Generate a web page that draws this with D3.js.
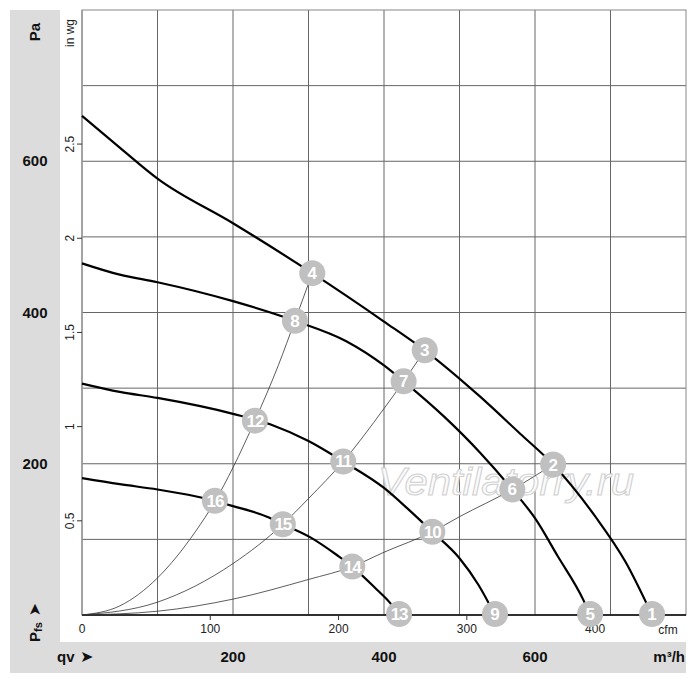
<!DOCTYPE html>
<html><head><meta charset="utf-8">
<script src="https://cdn.jsdelivr.net/npm/d3@7/dist/d3.min.js"></script>
<style>body{margin:0;background:#fff}svg{display:block}</style>
</head><body>
<svg id="c" width="700" height="685"></svg>
<script>
// ---- data (q in m³/h, p in Pa) ----
const curveA = [[0,660],[50,618],[100,577],[200,518],[305,452],[400,388],[454,350],[527,289],[580,240],[624,199],[680,130],[720,70],[755,0]];
const curveB = [[0,465],[50,450],[100,440],[200,415],[282,389],[350,362],[400,330],[426,309],[480,262],[527,215],[570,166],[600,128],[630,78],[664,20],[673,0]];
const curveC = [[0,306],[50,295],[100,287],[200,266],[250,252],[300,230],[346,203],[400,168],[432,140],[464,110],[500,75],[525,40],[547,0]];
const curveD = [[0,181],[50,173],[100,166],[150,157],[200,144],[245,130],[266,120],[302,103],[338,79],[358,64],[390,34],[408,16],[420,0]];
const system1 = [[0,0],[50,12],[100,49],[150,110],[176,150],[200,195],[229,257],[260,330],[282,389],[305,452]];
const system2 = [[0,0],[100,17],[200,68],[266,120],[300,154],[346,203],[400,273],[426,309],[454,350]];
const system3 = [[0,0],[100,5],[200,21],[300,47],[358,64],[400,83],[464,110],[500,130],[570,166],[624,199]];
const pointLabels = ["1","2","3","4","5","6","7","8","9","10","11","12","13","14","15","16"];
const pointQ = [755,624,454,305,673,570,426,282,547,464,346,229,420,358,266,176];
const pointP = [0,199,350,452,0,166,309,389,0,110,203,257,0,64,120,151];
const paTicks = [200,400,600];
const m3hTicks = [200,400,600];
const cfmTicks = [0,100,200,300,400];
const inwgTicks = [0.5,1,1.5,2,2.5];
const gridQ = [100,200,300,400,500,600,700];
const gridP = [100,200,300,400,500,600,700];

// ---- scales ----
const svg = d3.select("#c");
const x = d3.scaleLinear().domain([0,800]).range([82,686]);
const y = d3.scaleLinear().domain([0,800]).range([615,10]);
const CFM = 1.699, INWG = 249.09;
const F = "'Liberation Sans', Arial, sans-serif";

// bands
svg.append("rect").attr("x",10).attr("y",10).attr("width",50).attr("height",663).attr("fill","#dcdcdc");
svg.append("rect").attr("x",10).attr("y",642).attr("width",676).attr("height",31).attr("fill","#dcdcdc");

// grid
const g = svg.append("g");
g.selectAll(".vg").data(gridQ).join("line").attr("x1",d=>x(d)).attr("x2",d=>x(d)).attr("y1",y(800)).attr("y2",y(0)).attr("stroke","#666").attr("stroke-width",1);
g.selectAll(".hg").data(gridP).join("line").attr("y1",d=>y(d)).attr("y2",d=>y(d)).attr("x1",x(0)).attr("x2",x(800)).attr("stroke","#666").attr("stroke-width",1);
g.append("rect").attr("x",x(0)).attr("y",y(800)).attr("width",x(800)-x(0)).attr("height",y(0)-y(800)).attr("fill","none").attr("stroke","#888").attr("stroke-width",1);

// watermark
svg.append("text").attr("x",378).attr("y",495).attr("font-family",F).attr("font-style","italic")
  .attr("font-size",38).attr("textLength",256).attr("lengthAdjust","spacingAndGlyphs")
  .attr("fill","#fbfbfb").attr("stroke","#d0d0d0").attr("stroke-width",1).text("Ventilatorry.ru");

// axis lines and ticks
svg.append("line").attr("x1",x(0)).attr("x2",x(800)).attr("y1",y(0)).attr("y2",y(0)).attr("stroke","#000").attr("stroke-width",1.5);
svg.append("line").attr("x1",x(0)).attr("x2",x(0)).attr("y1",y(0)).attr("y2",y(800)).attr("stroke","#999").attr("stroke-width",1.5);
svg.selectAll(".ct").data(cfmTicks.slice(1)).join("line").attr("x1",d=>x(d*CFM)).attr("x2",d=>x(d*CFM)).attr("y1",y(0)).attr("y2",y(0)+5).attr("stroke","#333");
svg.selectAll(".cl").data(cfmTicks).join("text").attr("x",d=>x(d*CFM)).attr("y",633).attr("text-anchor","middle")
  .attr("font-family",F).attr("font-size",12).attr("fill","#222").text(d=>d);
svg.append("text").attr("x",668).attr("y",634).attr("text-anchor","middle").attr("font-family",F).attr("font-size",12).attr("fill","#222").text("cfm");

// in wg ticks
svg.selectAll(".it").data(inwgTicks).join("line").attr("x1",x(0)-5).attr("x2",x(0)).attr("y1",d=>y(d*INWG)).attr("y2",d=>y(d*INWG)).attr("stroke","#333");
svg.selectAll(".il").data(inwgTicks).join("text")
  .attr("transform",d=>`translate(74,${y(d*INWG)}) rotate(-90)`).attr("text-anchor","middle")
  .attr("font-family",F).attr("font-size",12).attr("fill","#222").text(d=>d);
svg.append("text").attr("transform","translate(74,33) rotate(-90)").attr("text-anchor","middle")
  .attr("font-family",F).attr("font-size",12).attr("fill","#222").text("in wg");

// band labels
svg.selectAll(".pl").data(paTicks).join("text").attr("x",35).attr("y",d=>y(d)+5).attr("text-anchor","middle")
  .attr("font-family",F).attr("font-size",15).attr("font-weight","bold").attr("fill","#111").text(d=>d);
svg.selectAll(".ml").data(m3hTicks).join("text").attr("x",d=>x(d)).attr("y",662).attr("text-anchor","middle")
  .attr("font-family",F).attr("font-size",15).attr("font-weight","bold").attr("fill","#111").text(d=>d);
svg.append("text").attr("x",685).attr("y",662).attr("text-anchor","end").attr("font-family",F).attr("font-size",15).attr("font-weight","bold").attr("fill","#111").text("m³/h");
svg.append("text").attr("transform","translate(40,32) rotate(-90)").attr("text-anchor","middle")
  .attr("font-family",F).attr("font-size",15).attr("font-weight","bold").attr("fill","#111").text("Pa");
svg.append("text").attr("x",57).attr("y",662).attr("font-family",F).attr("font-size",15).attr("font-weight","bold").attr("fill","#111").text("qv");
svg.append("text").attr("x",80).attr("y",662).attr("font-family","'DejaVu Sans', sans-serif").attr("font-size",16).attr("fill","#111").text("➤");
const pfs = svg.append("text").attr("transform","translate(40,642) rotate(-90)")
  .attr("font-family",F).attr("font-size",15).attr("font-weight","bold").attr("fill","#111");
pfs.append("tspan").text("P");
pfs.append("tspan").attr("font-size",11).attr("dy",2).text("fs");
pfs.append("tspan").attr("dy",-2).attr("dx",6).attr("font-family","'DejaVu Sans', sans-serif").attr("font-weight","normal").attr("font-size",16).text("➤");

// curves
const line = d3.line().x(d=>x(d[0])).y(d=>y(d[1])).curve(d3.curveMonotoneX);
[system1,system2,system3].forEach(s=>{
  svg.append("path").attr("d",line(s)).attr("fill","none").attr("stroke","#333").attr("stroke-width",0.8);
});
[curveA,curveB,curveC,curveD].forEach(s=>{
  svg.append("path").attr("d",line(s)).attr("fill","none").attr("stroke","#000").attr("stroke-width",2.2);
});

// point markers
const pts = pointLabels.map((l,i)=>({l,q:pointQ[i],p:pointP[i]}));
const pg = svg.selectAll(".pt").data(pts).join("g").attr("transform",d=>`translate(${x(d.q)},${Math.min(y(d.p),614)})`);
pg.append("circle").attr("r",13).attr("fill","#c0c0c0");
pg.append("text").attr("text-anchor","middle").attr("y",6).attr("font-family",F).attr("font-size",17)
  .attr("font-weight","bold").attr("fill","#fff").attr("letter-spacing",d=>d.l.length>1?-1:0).text(d=>d.l);
</script>
</body></html>
